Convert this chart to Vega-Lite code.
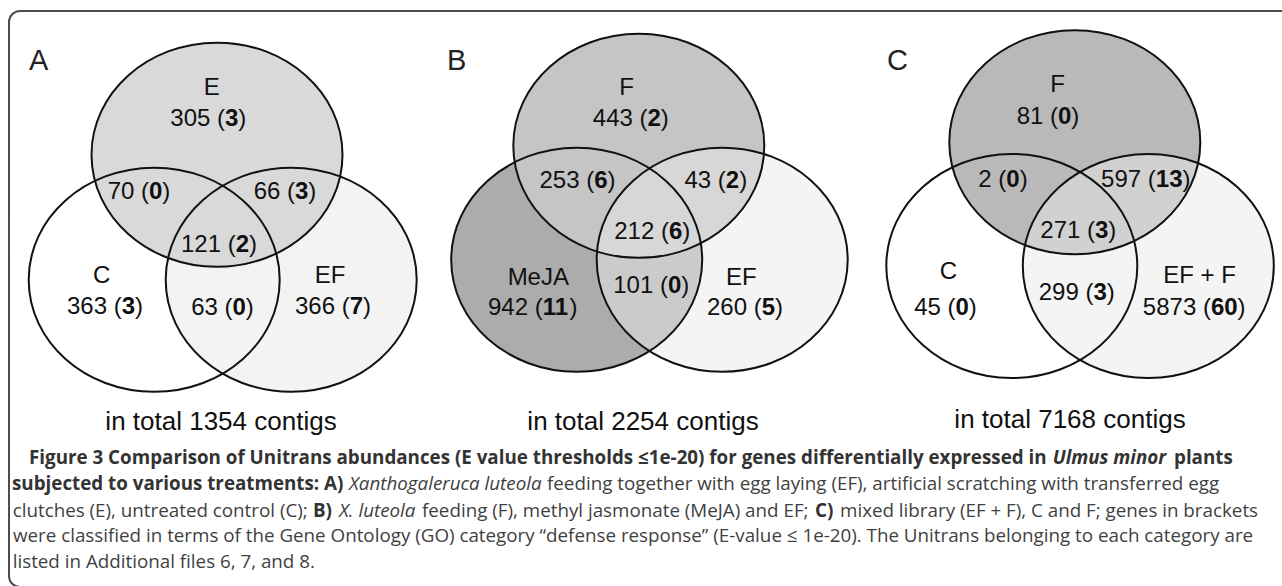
{
  "$schema": "https://vega.github.io/schema/vega-lite/v6.json",
  "width": 1282,
  "height": 586,
  "padding": 0,
  "autosize": {"type": "none"},
  "background": "white",
  "config": {"view": {"stroke": null}},
  "datasets": {
    "frame": [{"x": 9, "y": 11, "x2": 1320, "y2": 587}],
    "circles": [
      {"set": "A_C", "x": 154.2, "y": 279.7},
      {"set": "A_EF", "x": 291.2, "y": 279.7},
      {"set": "A_E", "x": 217, "y": 154.7},
      {"set": "B_MeJA", "x": 576.7, "y": 259.7},
      {"set": "B_F", "x": 638.8, "y": 145.8},
      {"set": "B_EF", "x": 722.2, "y": 259.7},
      {"set": "C_C", "x": 1011.8, "y": 266},
      {"set": "C_F", "x": 1074.8, "y": 142.2},
      {"set": "C_EFF", "x": 1148.3, "y": 266}
    ],
    "names": [
      {"label": "E", "x": 211.7, "y": 95},
      {"label": "C", "x": 101.7, "y": 283.3},
      {"label": "EF", "x": 330, "y": 283.3},
      {"label": "F", "x": 626.7, "y": 95},
      {"label": "MeJA", "x": 538.3, "y": 285},
      {"label": "EF", "x": 741.3, "y": 285},
      {"label": "F", "x": 1057.5, "y": 91.7},
      {"label": "C", "x": 948.3, "y": 279.3},
      {"label": "EF + F", "x": 1199.5, "y": 283.3}
    ],
    "nums": [
      {"pre": "305 (", "b": "3", "x": 225.0, "y": 126},
      {"pre": "70 (", "b": "0", "x": 149, "y": 199.3},
      {"pre": "66 (", "b": "3", "x": 295, "y": 199.3},
      {"pre": "121 (", "b": "2", "x": 235.7, "y": 252.3},
      {"pre": "363 (", "b": "3", "x": 121.7, "y": 314},
      {"pre": "63 (", "b": "0", "x": 232.5, "y": 315},
      {"pre": "366 (", "b": "7", "x": 349.7, "y": 314},
      {"pre": "443 (", "b": "2", "x": 647.5, "y": 126},
      {"pre": "253 (", "b": "6", "x": 594.2, "y": 188.3},
      {"pre": "43 (", "b": "2", "x": 725.8, "y": 188.3},
      {"pre": "212 (", "b": "6", "x": 668.9, "y": 239},
      {"pre": "942 (", "b": "11", "x": 542.7, "y": 315},
      {"pre": "101 (", "b": "0", "x": 667.9, "y": 292.5},
      {"pre": "260 (", "b": "5", "x": 761.7, "y": 315},
      {"pre": "81 (", "b": "0", "x": 1058, "y": 124},
      {"pre": "2 (", "b": "0", "x": 1006.3, "y": 186.7},
      {"pre": "597 (", "b": "13", "x": 1155.8, "y": 186.7},
      {"pre": "271 (", "b": "3", "x": 1095, "y": 238.3},
      {"pre": "45 (", "b": "0", "x": 955.5, "y": 315},
      {"pre": "299 (", "b": "3", "x": 1093.4, "y": 300},
      {"pre": "5873 (", "b": "60", "x": 1210.9, "y": 315}
    ],
    "letters": [
      {"label": "A", "x": 29, "y": 70},
      {"label": "B", "x": 447, "y": 70},
      {"label": "C", "x": 887, "y": 70}
    ],
    "totals": [
      {"label": "in total 1354 contigs", "x": 221, "y": 430},
      {"label": "in total 2254 contigs", "x": 643, "y": 430},
      {"label": "in total 7168 contigs", "x": 1070, "y": 428}
    ],
    "caption": [
      {"role": "title", "x": 29, "y": 464, "t": "Figure 3 Comparison of Unitrans abundances (E value thresholds ≤1e-20) for genes differentially expressed in"},
      {"role": "titleSpecies", "x": 1052.7, "y": 464, "t": "Ulmus minor"},
      {"role": "title", "x": 1174, "y": 464, "t": "plants"},
      {"role": "title", "x": 12, "y": 490, "t": "subjected to various treatments: A)"},
      {"role": "species", "x": 349, "y": 490, "t": "Xanthogaleruca luteola"},
      {"role": "text", "x": 547, "y": 490, "t": "feeding together with egg laying (EF), artificial scratching with transferred egg"},
      {"role": "text", "x": 12.7, "y": 516.7, "t": "clutches (E), untreated control (C);"},
      {"role": "title", "x": 313, "y": 516.7, "t": "B)"},
      {"role": "species", "x": 339, "y": 516.7, "t": "X. luteola"},
      {"role": "text", "x": 422, "y": 516.7, "t": "feeding (F), methyl jasmonate (MeJA) and EF;"},
      {"role": "title", "x": 815, "y": 516.7, "t": "C)"},
      {"role": "text", "x": 840, "y": 516.7, "t": "mixed library (EF + F), C and F; genes in brackets"},
      {"role": "text", "x": 13, "y": 542.3, "t": "were classified in terms of the Gene Ontology (GO) category “defense response” (E-value ≤ 1e-20). The Unitrans belonging to each category are"},
      {"role": "text", "x": 12.7, "y": 568.3, "t": "listed in Additional files 6, 7, and 8."}
    ]
  },
  "encoding": {
    "x": {"field": "x", "type": "quantitative", "scale": {"domain": [0, 1282], "nice": false, "zero": false}, "axis": null},
    "y": {"field": "y", "type": "quantitative", "scale": {"domain": [0, 586], "nice": false, "zero": false, "reverse": true}, "axis": null}
  },
  "layer": [
    {
      "data": {"name": "frame"},
      "mark": {"type": "rect", "fill": "transparent", "stroke": "#4d4d4d", "strokeWidth": 2, "cornerRadius": 11, "clip": true},
      "encoding": {"x2": {"field": "x2"}, "y2": {"field": "y2"}}
    },
    {
      "data": {"name": "circles"},
      "transform": [{"filter": "datum.set !== 'B_EF' && datum.set !== 'C_EFF'"}],
      "mark": {"type": "point", "shape": "M 1 0 C 1 0.4932 0.5523 0.893 0 0.893 C -0.5523 0.893 -1 0.4932 -1 0 C -1 -0.4932 -0.5523 -0.893 0 -0.893 C 0.5523 -0.893 1 -0.4932 1 0 Z", "size": 63000, "filled": true, "opacity": 1, "strokeWidth": 0},
      "encoding": {
        "color": {"field": "set", "type": "nominal", "legend": null,
          "scale": {"domain": ["A_C", "A_EF", "A_E", "B_MeJA", "B_F", "B_EF", "C_C", "C_F", "C_EFF"],
                    "range": ["#ffffff", "#f3f3f3", "#d9d9d9", "#acacac", "#c5c5c5", "#e9e9e9", "#ffffff", "#b9b9b9", "#e9e9e9"]}}
      }
    },
    {
      "data": {"name": "circles"},
      "transform": [{"filter": "datum.set === 'B_EF' || datum.set === 'C_EFF'"}],
      "mark": {"type": "point", "shape": "M 1 0 C 1 0.4932 0.5523 0.893 0 0.893 C -0.5523 0.893 -1 0.4932 -1 0 C -1 -0.4932 -0.5523 -0.893 0 -0.893 C 0.5523 -0.893 1 -0.4932 1 0 Z", "size": 63000, "filled": true, "opacity": 0.5, "strokeWidth": 0},
      "encoding": {
        "color": {"field": "set", "type": "nominal", "legend": null}
      }
    },
    {
      "data": {"name": "circles"},
      "mark": {"type": "point", "shape": "M 1 0 C 1 0.4932 0.5523 0.893 0 0.893 C -0.5523 0.893 -1 0.4932 -1 0 C -1 -0.4932 -0.5523 -0.893 0 -0.893 C 0.5523 -0.893 1 -0.4932 1 0 Z", "size": 63000, "filled": false, "opacity": 1, "color": "#111111", "strokeWidth": 2}
    },
    {
      "data": {"name": "names"},
      "mark": {"type": "text", "align": "center", "baseline": "alphabetic", "font": "Liberation Sans", "fontSize": 24, "color": "#111111"},
      "encoding": {"text": {"field": "label"}}
    },
    {
      "data": {"name": "nums"},
      "mark": {"type": "text", "align": "right", "baseline": "alphabetic", "font": "Liberation Sans", "fontSize": 24, "color": "#111111"},
      "encoding": {"text": {"field": "pre"}}
    },
    {
      "data": {"name": "nums"},
      "mark": {"type": "text", "align": "left", "baseline": "alphabetic", "font": "Liberation Sans", "fontSize": 24, "fontWeight": "bold", "color": "#111111"},
      "encoding": {"text": {"field": "b"}}
    },
    {
      "data": {"name": "nums"},
      "transform": [{"filter": "length(datum.b) == 1"}],
      "mark": {"type": "text", "text": ")", "align": "left", "baseline": "alphabetic", "font": "Liberation Sans", "fontSize": 24, "color": "#111111", "dx": 13.34}
    },
    {
      "data": {"name": "nums"},
      "transform": [{"filter": "length(datum.b) == 2"}],
      "mark": {"type": "text", "text": ")", "align": "left", "baseline": "alphabetic", "font": "Liberation Sans", "fontSize": 24, "color": "#111111", "dx": 26.69}
    },
    {
      "data": {"name": "letters"},
      "mark": {"type": "text", "align": "left", "baseline": "alphabetic", "font": "Liberation Sans", "fontSize": 29, "color": "#222222"},
      "encoding": {"text": {"field": "label"}}
    },
    {
      "data": {"name": "totals"},
      "mark": {"type": "text", "align": "center", "baseline": "alphabetic", "font": "Liberation Sans", "fontSize": 26, "color": "#111111"},
      "encoding": {"text": {"field": "label"}}
    },
    {
      "data": {"name": "caption"},
      "transform": [{"filter": "datum.role === 'text'"}],
      "mark": {"type": "text", "align": "left", "baseline": "alphabetic", "font": "Open Sans", "fontSize": 18.8, "color": "#3f3f3f"},
      "encoding": {"text": {"field": "t"}}
    },
    {
      "data": {"name": "caption"},
      "transform": [{"filter": "datum.role === 'title'"}],
      "mark": {"type": "text", "align": "left", "baseline": "alphabetic", "font": "Open Sans", "fontSize": 18.8, "fontWeight": "bold", "color": "#333333"},
      "encoding": {"text": {"field": "t"}}
    },
    {
      "data": {"name": "caption"},
      "transform": [{"filter": "datum.role === 'species'"}],
      "mark": {"type": "text", "align": "left", "baseline": "alphabetic", "font": "Open Sans", "fontSize": 18.8, "fontStyle": "italic", "color": "#3f3f3f"},
      "encoding": {"text": {"field": "t"}}
    },
    {
      "data": {"name": "caption"},
      "transform": [{"filter": "datum.role === 'titleSpecies'"}],
      "mark": {"type": "text", "align": "left", "baseline": "alphabetic", "font": "Open Sans", "fontSize": 18.8, "fontWeight": "bold", "fontStyle": "italic", "color": "#333333"},
      "encoding": {"text": {"field": "t"}}
    }
  ]
}
